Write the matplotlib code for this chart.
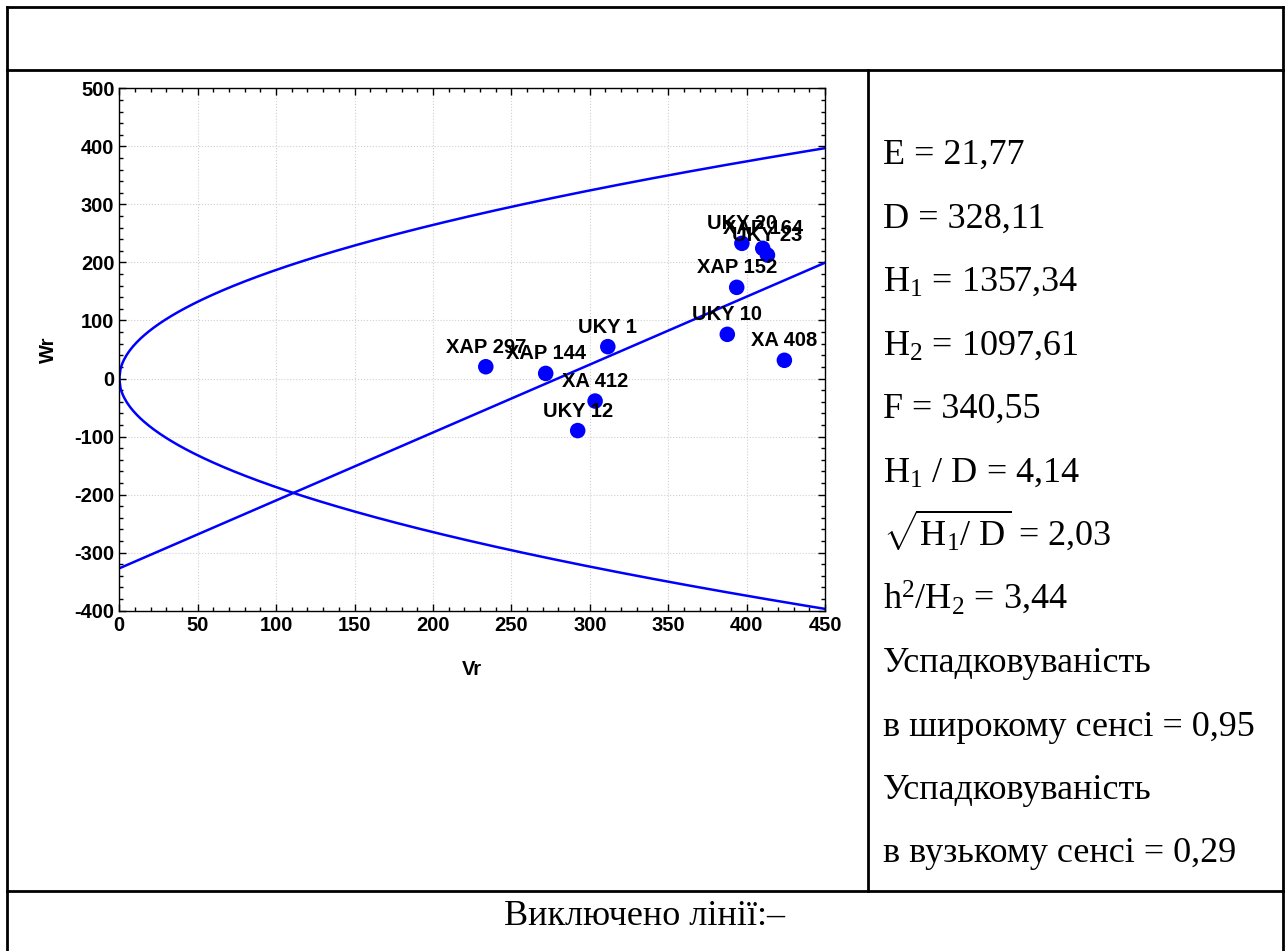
import numpy as np
import matplotlib
matplotlib.use("Agg")
import matplotlib.pyplot as plt
from matplotlib.ticker import MultipleLocator

plt.rcParams['mathtext.fontset'] = 'custom'
plt.rcParams['mathtext.rm'] = 'Liberation Serif'
plt.rcParams['mathtext.it'] = 'Liberation Serif:italic'
plt.rcParams['axes.unicode_minus'] = False

# ---- data ----
labels = ['XAP 297', 'XAP 144', 'UKY 1', 'XA 412', 'UKY 12', 'UKY 10',
          'XAP 152', 'XA 408', 'UKY 20', 'XAP 164', 'UKY 23']
vr = [233.7, 271.9, 311.5, 303.4, 292.3, 387.7, 393.7, 424.1, 397.0, 410.3, 413.3]
wr = [20.3, 8.8, 54.9, -38.8, -89.7, 76.1, 157.1, 31.4, 232.9, 224.3, 212.7]

reg_intercept = -327.0
reg_slope = 1.170
vp_limit = 350.0

stats_lines = [
    'E = 21,77',
    'D = 328,11',
    r'H$_1$ = 1357,34',
    r'H$_2$ = 1097,61',
    'F = 340,55',
    r'H$_1$ / D = 4,14',
    r'$\sqrt{\mathrm{H_1/\ D}}$ = 2,03',
    r'h$^2$/H$_2$ = 3,44',
    'Успадковуваність',
    'в широкому сенсі = 0,95',
    'Успадковуваність',
    'в вузькому сенсі = 0,29',
]
excluded_text = 'Виключено лінії:–'

W, H = 1286, 951
fig = plt.figure(figsize=(W / 100, H / 100), dpi=100)

# background table
bg = fig.add_axes([0, 0, 1, 1], zorder=0)
bg.set_xlim(0, W)
bg.set_ylim(H, 0)
bg.axis('off')
lw = 2.0
bx0, bx1 = 7, 1283
bg.plot([bx0, bx1], [7, 7], color='black', lw=lw)
bg.plot([bx0, bx1], [70, 70], color='black', lw=lw)
bg.plot([bx0, bx1], [891, 891], color='black', lw=lw)
bg.plot([bx0, bx0], [7, H + 5], color='black', lw=lw)
bg.plot([bx1, bx1], [7, H + 5], color='black', lw=lw)
bg.plot([868, 868], [70, 891], color='black', lw=lw)

for i, s in enumerate(stats_lines):
    bg.text(883, 164 + 63.5 * i, s, fontsize=26, family='Liberation Serif',
            va='baseline', ha='left')
bg.text(645, 925, excluded_text, fontsize=26, family='Liberation Serif',
        va='baseline', ha='center')

# chart
ax = fig.add_axes([119.3 / W, 1 - 610.7 / H, (825 - 119.3) / W, (610.7 - 88.3) / H], zorder=1)
ax.set_xlim(0, 450)
ax.set_ylim(-400, 500)

xs = np.linspace(0, 450, 600)
par = np.sqrt(vp_limit * xs)
ax.plot(xs, par, color='#0000ff', lw=1.8)
ax.plot(xs, -par, color='#0000ff', lw=1.8)
ax.plot(xs, reg_intercept + reg_slope * xs, color='#0000ff', lw=1.8)

ax.scatter(vr, wr, s=125, color='#0000ff', zorder=3, edgecolors='none')
for x, y, t in zip(vr, wr, labels):
    ax.annotate(t, (x, y), xytext=(0, 14), textcoords='offset pixels',
                ha='center', va='baseline', fontsize=14.5, fontweight='bold',
                family='Liberation Sans', zorder=4)

ax.xaxis.set_major_locator(MultipleLocator(50))
ax.xaxis.set_minor_locator(MultipleLocator(10))
ax.yaxis.set_major_locator(MultipleLocator(100))
ax.yaxis.set_minor_locator(MultipleLocator(20))
ax.tick_params(which='both', direction='in', top=True, right=True)
ax.tick_params(which='major', length=5, width=1)
ax.tick_params(which='minor', length=3, width=1)
ax.tick_params(labelsize=14.5)
for lab in ax.get_xticklabels() + ax.get_yticklabels():
    lab.set_fontweight('bold')
    lab.set_family('Liberation Sans')
ax.grid(True, which='major', color='#d0d0d0', linestyle=':', linewidth=0.8)
ax.set_axisbelow(True)
for sp in ax.spines.values():
    sp.set_linewidth(1.0)

ax.set_xlabel('Vr', fontsize=14.5, fontweight='bold', family='Liberation Sans', labelpad=18)
ax.set_ylabel('Wr', fontsize=14.5, fontweight='bold', family='Liberation Sans', labelpad=12)

fig.savefig('out.png', dpi=100)
